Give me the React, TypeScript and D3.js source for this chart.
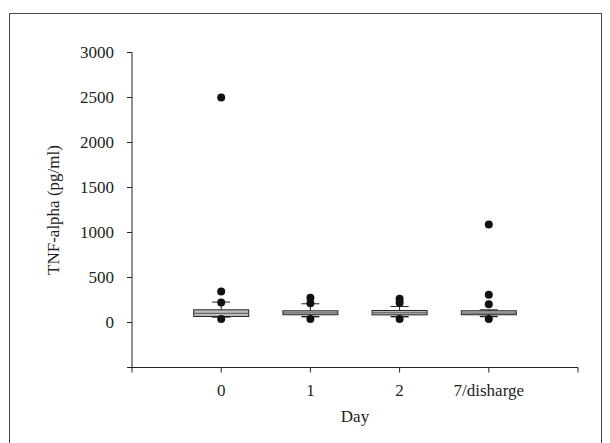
import React from 'react'
import * as d3 from 'd3'

const categories = ['0', '1', '2', '7/disharge']
const q1 = [67, 86, 85, 86]
const median = [102, 106, 108, 104]
const q3 = [141, 130, 133, 130]
const whiskerLow = [62, 65, 65, 67]
const whiskerHigh = [227, 208, 178, 141]
const outliers = [
  [2500, 344, 222, 38],
  [275, 215, 40],
  [265, 220, 38],
  [1090, 308, 204, 38],
]
const yTicks = [0, 500, 1000, 1500, 2000, 2500, 3000]

const font = '"Liberation Serif", "Times New Roman", serif'
const ink = '#222'
const fs = 17

export default function App() {
  const x = d3.scaleLinear().domain([0, categories.length + 1]).range([132, 578])
  const y = d3.scaleLinear().domain([-500, 3000]).range([367.5, 52.5])
  const boxW = 55
  const capW = 18
  const xTicks = d3.range(0, categories.length + 2)

  return (
    <svg width={610} height={443} style={{ position: 'absolute', left: 0, top: 0 }}>
      <rect x={9.5} y={13.5} width={592} height={460} fill="none" stroke="#444" strokeWidth={1} />

      {/* y axis */}
      <line x1={132} x2={132} y1={y(3000)} y2={y(-500)} stroke={ink} />
      {[...yTicks, -500].map(t => (
        <line key={t} x1={127} x2={132} y1={y(t)} y2={y(t)} stroke={ink} />
      ))}
      {yTicks.map(t => (
        <text key={t} x={114} y={y(t)} dy="0.35em" textAnchor="end" fontFamily={font} fontSize={fs} fill={ink}>
          {t}
        </text>
      ))}
      <text transform={`translate(59,${y(1250)}) rotate(-90)`} textAnchor="middle" fontFamily={font} fontSize={fs} fill={ink}>
        TNF-alpha (pg/ml)
      </text>

      {/* x axis */}
      <line x1={x(0)} x2={x(categories.length + 1)} y1={y(-500)} y2={y(-500)} stroke={ink} />
      {xTicks.map(t => (
        <line key={t} x1={x(t)} x2={x(t)} y1={y(-500)} y2={y(-500) + 5} stroke={ink} />
      ))}
      {categories.map((c, i) => (
        <text key={c} x={x(i + 1)} y={396} textAnchor="middle" fontFamily={font} fontSize={fs} fill={ink}>
          {c}
        </text>
      ))}
      <text x={x(2.5)} y={422} textAnchor="middle" fontFamily={font} fontSize={fs} fill={ink}>
        Day
      </text>

      {/* boxes */}
      {categories.map((c, i) => {
        const cx = x(i + 1)
        return (
          <g key={c}>
            <line x1={cx} x2={cx} y1={y(whiskerLow[i])} y2={y(whiskerHigh[i])} stroke={ink} />
            <rect x={cx - boxW / 2} y={y(q3[i])} width={boxW} height={y(q1[i]) - y(q3[i])} fill="#bdbdbd" stroke={ink} />
            <line x1={cx - boxW / 2} x2={cx + boxW / 2} y1={y(median[i])} y2={y(median[i])} stroke="#555" />
            <line x1={cx - capW / 2} x2={cx + capW / 2} y1={y(whiskerHigh[i])} y2={y(whiskerHigh[i])} stroke={ink} />
            <line x1={cx - capW / 2} x2={cx + capW / 2} y1={y(whiskerLow[i])} y2={y(whiskerLow[i])} stroke={ink} strokeWidth={1.5} />
            {outliers[i].map((v, j) => (
              <circle key={j} cx={cx} cy={y(v)} r={4} fill="#111" />
            ))}
          </g>
        )
      })}
    </svg>
  )
}
